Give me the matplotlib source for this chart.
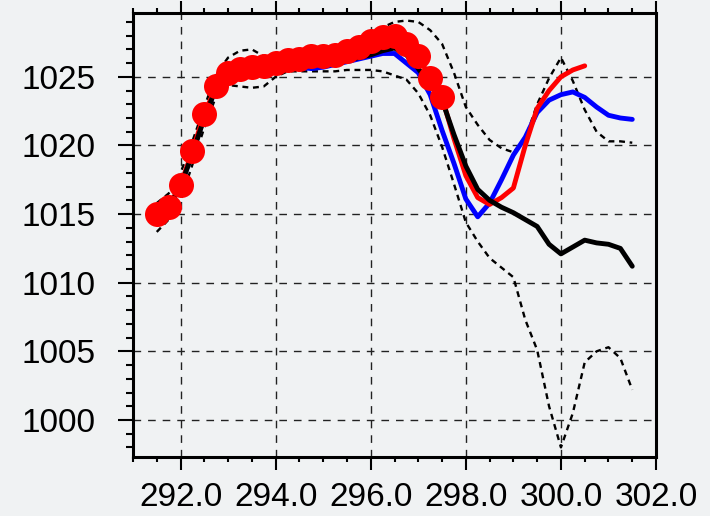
import numpy as np
import matplotlib
matplotlib.use("Agg")
import matplotlib.pyplot as plt
from matplotlib.ticker import MultipleLocator, FormatStrFormatter

# x positions of the track points
x = [291.5, 291.75, 292.0, 292.25, 292.5, 292.75, 293.0, 293.25, 293.5, 293.75,
     294.0, 294.25, 294.5, 294.75, 295.0, 295.25, 295.5, 295.75, 296.0, 296.25,
     296.5, 296.75, 297.0, 297.25, 297.5, 297.75, 298.0, 298.25, 298.5, 298.75,
     299.0, 299.25, 299.5, 299.75, 300.0, 300.25, 300.5, 300.75, 301.0, 301.25,
     301.5]

# ensemble mean (black)
mean = [1015.0, 1015.6, 1017.0, 1019.4, 1022.0, 1024.2, 1025.2, 1025.5, 1025.6, 1025.7,
        1025.9, 1026.0, 1026.0, 1025.9, 1025.9, 1026.0, 1026.2, 1026.4, 1026.6, 1026.9,
        1027.1, 1026.6, 1025.6, 1024.4, 1023.3, 1020.8, 1018.5, 1016.8, 1016.0, 1015.5,
        1015.1, 1014.6, 1014.1, 1012.8, 1012.1, 1012.6, 1013.1, 1012.9, 1012.8, 1012.5,
        1011.2]

# control run (blue)
ctrl = [1015.0, 1015.5, 1017.0, 1019.5, 1022.1, 1024.2, 1025.2, 1025.4, 1025.5, 1025.6,
        1025.7, 1025.8, 1025.7, 1025.6, 1025.7, 1025.9, 1026.1, 1026.3, 1026.5, 1026.7,
        1026.7, 1026.0, 1025.3, 1023.7, 1021.1, 1018.7, 1016.1, 1014.8, 1015.8, 1017.5,
        1019.3, 1020.6, 1022.4, 1023.3, 1023.7, 1023.9, 1023.5, 1022.8, 1022.2, 1022.0,
        1021.9]

# spread envelope (dashed)
upper = [1015.8, 1016.5, 1018.0, 1020.3, 1022.8, 1025.2, 1026.4, 1026.9, 1027.0, 1026.5,
         1025.8, 1025.9, 1026.1, 1026.3, 1026.5, 1026.7, 1027.0, 1027.5, 1028.0, 1028.6,
         1029.0, 1029.1, 1029.0, 1028.4, 1027.4, 1025.3, 1022.8, 1021.5, 1020.4, 1019.8,
         1019.5, 1020.5, 1023.0, 1024.9, 1026.4, 1024.7, 1022.6, 1021.0, 1020.3, 1020.3,
         1020.2]
lower = [1013.7, 1014.6, 1016.0, 1018.6, 1021.3, 1023.6, 1024.4, 1024.3, 1024.2, 1024.3,
         1025.0, 1025.4, 1025.4, 1025.4, 1025.4, 1025.4, 1025.5, 1025.5, 1025.5, 1025.4,
         1025.1, 1024.8, 1023.8, 1022.2, 1019.9, 1017.2, 1014.4, 1013.0, 1011.8, 1011.1,
         1010.4, 1007.3, 1005.1, 1001.0, 998.0, 1000.5, 1004.2, 1005.0, 1005.3, 1004.5,
         1002.2]

# observed / best track (red), dots where observed
obs_x = x[:37]
obs = [1015.0, 1015.5, 1017.1, 1019.6, 1022.3, 1024.3, 1025.3, 1025.6, 1025.7, 1025.8,
       1026.0, 1026.2, 1026.3, 1026.5, 1026.5, 1026.6, 1026.9, 1027.2, 1027.6, 1027.9,
       1028.0, 1027.4, 1026.5, 1024.9, 1023.5, 1020.5, 1017.8, 1016.2, 1015.7, 1016.2,
       1016.9, 1020.0, 1022.7, 1024.0, 1025.0, 1025.5, 1025.8]
n_dots = 25

bg = '#f0f2f3'
fig = plt.figure(figsize=(7.1, 5.16), dpi=100, facecolor=bg)
ax = fig.add_axes([0.1873, 0.1143, 0.7367, 0.8605], facecolor=bg)

dash = (0, (2.5, 2))
ax.plot(x, upper, color='black', lw=1.7, linestyle=dash)
ax.plot(x, lower, color='black', lw=1.7, linestyle=dash)
ax.plot(x, ctrl, color='blue', lw=3.5, solid_capstyle='round')
ax.plot(obs_x, obs, color='red', lw=3.5, solid_capstyle='round')
ax.plot(x, mean, color='black', lw=3.5, solid_capstyle='round')
ax.plot(obs_x[:n_dots], obs[:n_dots], 'o', color='red', markersize=18,
        markeredgewidth=0)

ax.set_xlim(291.0, 302.0)
ax.set_ylim(997.3, 1029.65)
ax.xaxis.set_major_locator(MultipleLocator(2))
ax.xaxis.set_minor_locator(MultipleLocator(0.5))
ax.xaxis.set_major_formatter(FormatStrFormatter('%.1f'))
ax.yaxis.set_major_locator(MultipleLocator(5))
ax.yaxis.set_minor_locator(MultipleLocator(1))

ax.grid(True, which='major', color='#222222', lw=1, linestyle=(0, (5.5, 5)))

ax.tick_params(axis='x', which='both', direction='out', top=True, bottom=True,
               width=1.5, labelsize=24, pad=9)
ax.tick_params(axis='x', which='major', length=9)
ax.tick_params(axis='x', which='minor', length=3.5)
ax.tick_params(axis='y', which='both', direction='out', left=True, right=False,
               width=1.5, labelsize=24, pad=16)
ax.tick_params(axis='y', which='major', length=11)
ax.tick_params(axis='y', which='minor', length=5)

for lab in ax.get_xticklabels() + ax.get_yticklabels():
    lab.set_fontfamily('Liberation Sans')

for s in ax.spines.values():
    s.set_linewidth(2.2)

fig.savefig('out.png', dpi=100, facecolor=bg)
